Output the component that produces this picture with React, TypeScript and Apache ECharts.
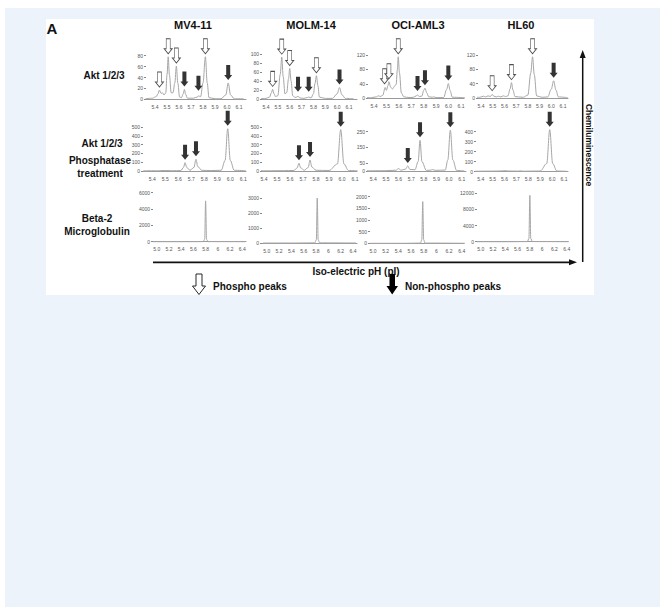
import React, { useEffect, useRef } from 'react';
import * as echarts from 'echarts';

// ---------- Data ----------
const cellLines = ['MV4-11', 'MOLM-14', 'OCI-AML3', 'HL60'];
const rowLabels = [['Akt 1/2/3'], ['Akt 1/2/3', 'Phosphatase', 'treatment'], ['Beta-2', 'Microglobulin']];

const aktTicks = [5.4, 5.5, 5.6, 5.7, 5.8, 5.9, 6.0, 6.1];
const b2mTicks = [5.0, 5.2, 5.4, 5.6, 5.8, 6.0, 6.2, 6.4];
const b2mTickLabels = ['5.0', '5.2', '5.4', '5.6', '5.8', '6', '6.2', '6.4'];

// Akt 1/2/3 (untreated)
const mv411Akt = [[5.32,1],[5.38,2],[5.41,5],[5.425,10],[5.437,17],[5.45,11],[5.462,12],[5.475,8],[5.49,12],[5.50,45],[5.51,78],[5.52,45],[5.535,12],[5.55,12],[5.565,30],[5.578,61],[5.59,30],[5.605,4],[5.62,3],[5.635,10],[5.645,18],[5.656,9],[5.67,2],[5.72,2],[5.75,4],[5.762,6],[5.78,5],[5.80,30],[5.82,78],[5.835,30],[5.85,3],[5.9,1],[5.95,1],[5.99,8],[6.01,30],[6.03,8],[6.06,1],[6.14,1]];
const molm14Akt = [[5.32,1],[5.40,2],[5.43,5],[5.445,14],[5.456,22],[5.468,12],[5.48,6],[5.50,8],[5.52,55],[5.533,93],[5.545,50],[5.56,12],[5.575,15],[5.59,45],[5.60,68],[5.612,40],[5.625,8],[5.645,4],[5.66,5],[5.67,7],[5.685,3],[5.72,2],[5.75,4],[5.76,5],[5.78,3],[5.80,12],[5.813,35],[5.825,52],[5.838,30],[5.85,5],[5.88,3],[5.9,2],[5.96,2],[6.0,12],[6.02,26],[6.04,10],[6.07,2],[6.14,1]];
const ociAkt = [[5.32,1],[5.38,2],[5.42,4],[5.435,7],[5.45,5],[5.47,8],[5.49,30],[5.50,22],[5.512,35],[5.52,46],[5.535,30],[5.55,26],[5.565,34],[5.578,38],[5.588,80],[5.595,115],[5.605,70],[5.62,15],[5.64,4],[5.66,3],[5.69,2],[5.72,3],[5.74,7],[5.75,9],[5.765,5],[5.785,6],[5.80,22],[5.81,28],[5.825,15],[5.84,4],[5.87,3],[5.88,4],[5.9,2],[5.96,2],[5.985,25],[5.998,41],[6.012,22],[6.03,3],[6.14,1]];
const hl60Akt = [[5.32,1],[5.39,2],[5.42,5],[5.44,3],[5.46,6],[5.48,4],[5.495,10],[5.51,5],[5.53,3],[5.55,5],[5.57,3],[5.59,6],[5.61,4],[5.63,6],[5.648,25],[5.66,43],[5.673,22],[5.69,4],[5.72,3],[5.76,2],[5.80,8],[5.825,70],[5.84,115],[5.855,65],[5.875,6],[5.92,2],[5.97,3],[6.0,25],[6.02,48],[6.04,22],[6.06,3],[6.14,1]];

// Akt 1/2/3 after phosphatase treatment
const mv411Phos = [[5.33,2],[5.45,3],[5.5,6],[5.55,3],[5.62,5],[5.64,40],[5.652,95],[5.665,40],[5.69,8],[5.72,40],[5.736,133],[5.75,50],[5.78,8],[5.85,5],[5.93,8],[5.96,120],[5.98,480],[6.0,120],[6.03,8],[6.12,3]];
const molm14Phos = [[5.33,2],[5.45,3],[5.55,4],[5.63,6],[5.655,35],[5.669,87],[5.682,35],[5.71,8],[5.74,40],[5.754,125],[5.768,45],[5.8,8],[5.9,6],[5.965,80],[5.99,470],[6.015,80],[6.05,6],[6.12,3]];
const ociPhos = [[5.33,1],[5.5,2],[5.58,5],[5.6,15],[5.62,5],[5.655,12],[5.673,32],[5.69,10],[5.73,8],[5.755,60],[5.77,195],[5.785,60],[5.82,4],[5.85,5],[5.87,9],[5.89,4],[5.97,6],[5.99,70],[6.01,260],[6.03,70],[6.06,3],[6.12,1]];
const hl60Phos = [[5.33,2],[5.5,4],[5.58,6],[5.6,10],[5.63,5],[5.72,4],[5.73,6],[5.76,3],[5.9,5],[5.955,80],[5.98,420],[6.005,80],[6.04,5],[6.12,2]];

// Beta-2 microglobulin
const mv411B2m = [[4.94,0],[5.5,0],[5.76,10],[5.785,300],[5.8,5000],[5.815,300],[5.84,10],[6.45,0]];
const molm14B2m = [[4.94,0],[5.5,0],[5.78,10],[5.805,200],[5.82,3000],[5.835,200],[5.86,10],[6.45,0]];
const ociB2m = [[4.94,0],[5.5,0],[5.75,10],[5.77,150],[5.785,1790],[5.8,150],[5.82,10],[6.45,0]];
const hl60B2m = [[4.94,0],[5.5,0],[5.76,30],[5.785,800],[5.8,11500],[5.815,800],[5.84,30],[6.45,0]];

// Arrow markers: [pI, peak height]
const mv411AktPhospho = [[5.437,17],[5.51,78],[5.578,61],[5.82,78]];
const mv411AktNon = [[5.645,18],[5.762,10],[6.01,30]];
const molm14AktPhospho = [[5.456,22],[5.533,93],[5.60,68],[5.825,52]];
const molm14AktNon = [[5.67,10],[5.76,10],[6.02,26]];
const ociAktPhospho = [[5.485,32],[5.52,46],[5.595,115]];
const ociAktNon = [[5.75,12],[5.81,28],[5.998,41]];
const hl60AktPhospho = [[5.495,12],[5.66,43],[5.84,115]];
const hl60AktNon = [[6.02,48]];
const mv411PhosNon = [[5.652,95],[5.736,133],[5.98,480]];
const molm14PhosNon = [[5.669,87],[5.754,125],[5.99,470]];
const ociPhosNon = [[5.673,32],[5.77,195],[6.01,260]];
const hl60PhosNon = [[5.98,420]];

const yTicks = [
  [0,20,40,60,80],[0,20,40,60,80,100],[0,40,80,120],[0,40,80,120],
  [0,100,200,300,400,500],[0,100,200,300,400,500],[0,50,150,250],[0,100,200,300,400],
  [0,2000,4000,6000],[0,1000,2000,3000],[0,500,1000,1500,2000],[0,4000,8000,12000],
];

const traces = [mv411Akt, molm14Akt, ociAkt, hl60Akt, mv411Phos, molm14Phos, ociPhos, hl60Phos, mv411B2m, molm14B2m, ociB2m, hl60B2m];
const phosphoArrows = [mv411AktPhospho, molm14AktPhospho, ociAktPhospho, hl60AktPhospho, [], [], [], [], [], [], [], []];
const nonArrows = [mv411AktNon, molm14AktNon, ociAktNon, hl60AktNon, mv411PhosNon, molm14PhosNon, ociPhosNon, hl60PhosNon, [], [], [], []];

// ---------- Layout (pixels) ----------
// [axis left, axis right, px of first tick label, px of last tick label]
const xLayout = [
  [146,246,155,239],[262,357,266,349],[368,464,374,461],[478,568,481,563],
  [143,246,152.3,243.3],[262,357,264,355],[368,466,373.3,461.7],[476,568,480.7,564],
  [153,246,156.7,242.3],[262,357,266.7,353],[370,464,373,461.7],[477,568,480.7,566.7],
];
// [y of zero, y of top tick]
const yLayout = [
  [99.3,55.7],[99.3,54],[98.3,55],[98,55],
  [171,127],[171,127],[171,131.7],[171.5,131.7],
  [241.7,192.7],[243,198],[243.3,196.7],[241.7,193.3],
];

const FONT = "'Liberation Sans', Arial, Helvetica, sans-serif";
const ARROW = 'path://M2,0 L6,0 L6,10 L8,10 L4,15 L0,10 L2,10 Z';

export default function App() {
  const ref = useRef<HTMLDivElement>(null);
  useEffect(() => {
    const chart = echarts.init(ref.current!, null, { renderer: 'svg' });
    const grid: any[] = [];
    const xAxis: any[] = [];
    const yAxis: any[] = [];
    const series: any[] = [];
    for (let i = 0; i < 12; i++) {
      const row = Math.floor(i / 4);
      const [L, R, p0, p1] = xLayout[i];
      const ticks = row === 2 ? b2mTicks : aktTicks;
      const v0 = ticks[0], v1 = ticks[ticks.length - 1];
      const k = (p1 - p0) / (v1 - v0);
      const xmin = v0 - (p0 - L) / k;
      const xmax = v1 + (R - p1) / k;
      const [zy, ty] = yLayout[i];
      const yt = yTicks[i];
      grid.push({ left: L, top: ty, width: R - L, height: zy - ty, containLabel: false });
      xAxis.push({
        type: 'value', gridIndex: i, min: xmin, max: xmax,
        axisLine: { show: true, lineStyle: { color: '#9a9a9a', width: 1 } },
        axisTick: { show: false }, splitLine: { show: false },
        axisLabel: {
          customValues: ticks, fontSize: 5, color: '#555', margin: 5, fontFamily: FONT,
          formatter: (v: number) => {
            if (row === 2) {
              const idx = b2mTicks.findIndex((t) => Math.abs(t - v) < 1e-6);
              return idx >= 0 ? b2mTickLabels[idx] : '';
            }
            return v.toFixed(1);
          },
        },
      });
      yAxis.push({
        type: 'value', gridIndex: i, min: 0, max: yt[yt.length - 1],
        axisLine: { show: false },
        axisTick: { show: true, customValues: yt, length: 2, lineStyle: { color: '#888' } },
        splitLine: { show: false },
        axisLabel: { customValues: yt, fontSize: 5, color: '#555', margin: 3, fontFamily: FONT,
          formatter: (v: number) => String(Math.round(v)) },
      });
      series.push({
        type: 'line', xAxisIndex: i, yAxisIndex: i, data: traces[i], showSymbol: false, symbol: 'none',
        smooth: 0.35, smoothMonotone: 'x', clip: false,
        lineStyle: { color: '#a6a6a6', width: 1 },
      });
      if (phosphoArrows[i].length) {
        series.push({
          type: 'scatter', xAxisIndex: i, yAxisIndex: i, data: phosphoArrows[i], clip: false,
          symbol: ARROW, symbolSize: [8, 15], symbolOffset: [0, -10.5], z: 5,
          itemStyle: { color: '#ffffff', borderColor: '#222', borderWidth: 0.8 },
        });
      }
      if (nonArrows[i].length) {
        series.push({
          type: 'scatter', xAxisIndex: i, yAxisIndex: i, data: nonArrows[i], clip: false,
          symbol: ARROW, symbolSize: [8, 15], symbolOffset: [0, -10.5], z: 5,
          itemStyle: { color: '#000000' },
        });
      }
    }

    const bold = (size: number) => `bold ${size}px ${FONT}`;
    const text = (t: string, x: number, y: number, size: number, extra: any = {}) => ({
      type: 'text', x, y, z: 20,
      style: { text: t, font: bold(size), fill: '#111', align: 'center', verticalAlign: 'middle', ...extra },
    });
    const colX = [193, 311, 418, 521];
    const graphic: any[] = [
      { type: 'rect', z: -20, silent: true, shape: { x: 5, y: 8, width: 655, height: 599 }, style: { fill: '#ecf3fb' } },
      { type: 'rect', z: -19, silent: true, shape: { x: 46, y: 19, width: 548, height: 276 }, style: { fill: '#ffffff' } },
      text('A', 52, 28, 15),
      ...cellLines.map((c, j) => text(c, colX[j], 25, 11)),
      text(rowLabels[0][0], 104, 75, 10),
      text(rowLabels[1][0], 102, 143, 10),
      text(rowLabels[1][1], 100, 160, 10),
      text(rowLabels[1][2], 100, 173, 10),
      text(rowLabels[2][0], 97, 218, 10),
      text(rowLabels[2][1], 97, 231, 10),
      text('Iso-electric pH (pI)', 356, 271, 10),
      { type: 'text', x: 589, y: 145, z: 20, rotation: -Math.PI / 2,
        style: { text: 'Chemiluminescence', font: bold(8.5), fill: '#111', align: 'center', verticalAlign: 'middle' } },
      { type: 'line', z: 20, shape: { x1: 153, y1: 262.3, x2: 572, y2: 262.3 }, style: { stroke: '#111', lineWidth: 1.8 } },
      { type: 'polygon', z: 20, shape: { points: [[569, 259.3], [577, 262.3], [569, 265.3]] }, style: { fill: '#111' } },
      { type: 'line', z: 20, shape: { x1: 582.7, y1: 262, x2: 582.7, y2: 56 }, style: { stroke: '#111', lineWidth: 1.5 } },
      { type: 'polygon', z: 20, shape: { points: [[579.7, 58], [582.7, 50], [585.7, 58]] }, style: { fill: '#111' } },
      { type: 'polygon', z: 20, shape: { points: [[196, 274], [202, 274], [202, 286], [205.5, 286], [199, 294.5], [192.5, 286], [196, 286]] },
        style: { fill: '#fff', stroke: '#111', lineWidth: 0.9 } },
      text('Phospho peaks', 213, 286, 10, { align: 'left' }),
      { type: 'polygon', z: 20, shape: { points: [[389.5, 274], [395, 274], [395, 286], [398, 286], [392.2, 294.5], [386.5, 286], [389.5, 286]] },
        style: { fill: '#000' } },
      text('Non-phospho peaks', 405, 286, 10, { align: 'left' }),
    ];

    chart.setOption({
      animation: false,
      backgroundColor: '#ffffff',
      grid, xAxis, yAxis, series, graphic,
    });
    return () => chart.dispose();
  }, []);
  return <div ref={ref} style={{ position: 'fixed', left: 0, top: 0, width: 660, height: 607 }} />;
}
